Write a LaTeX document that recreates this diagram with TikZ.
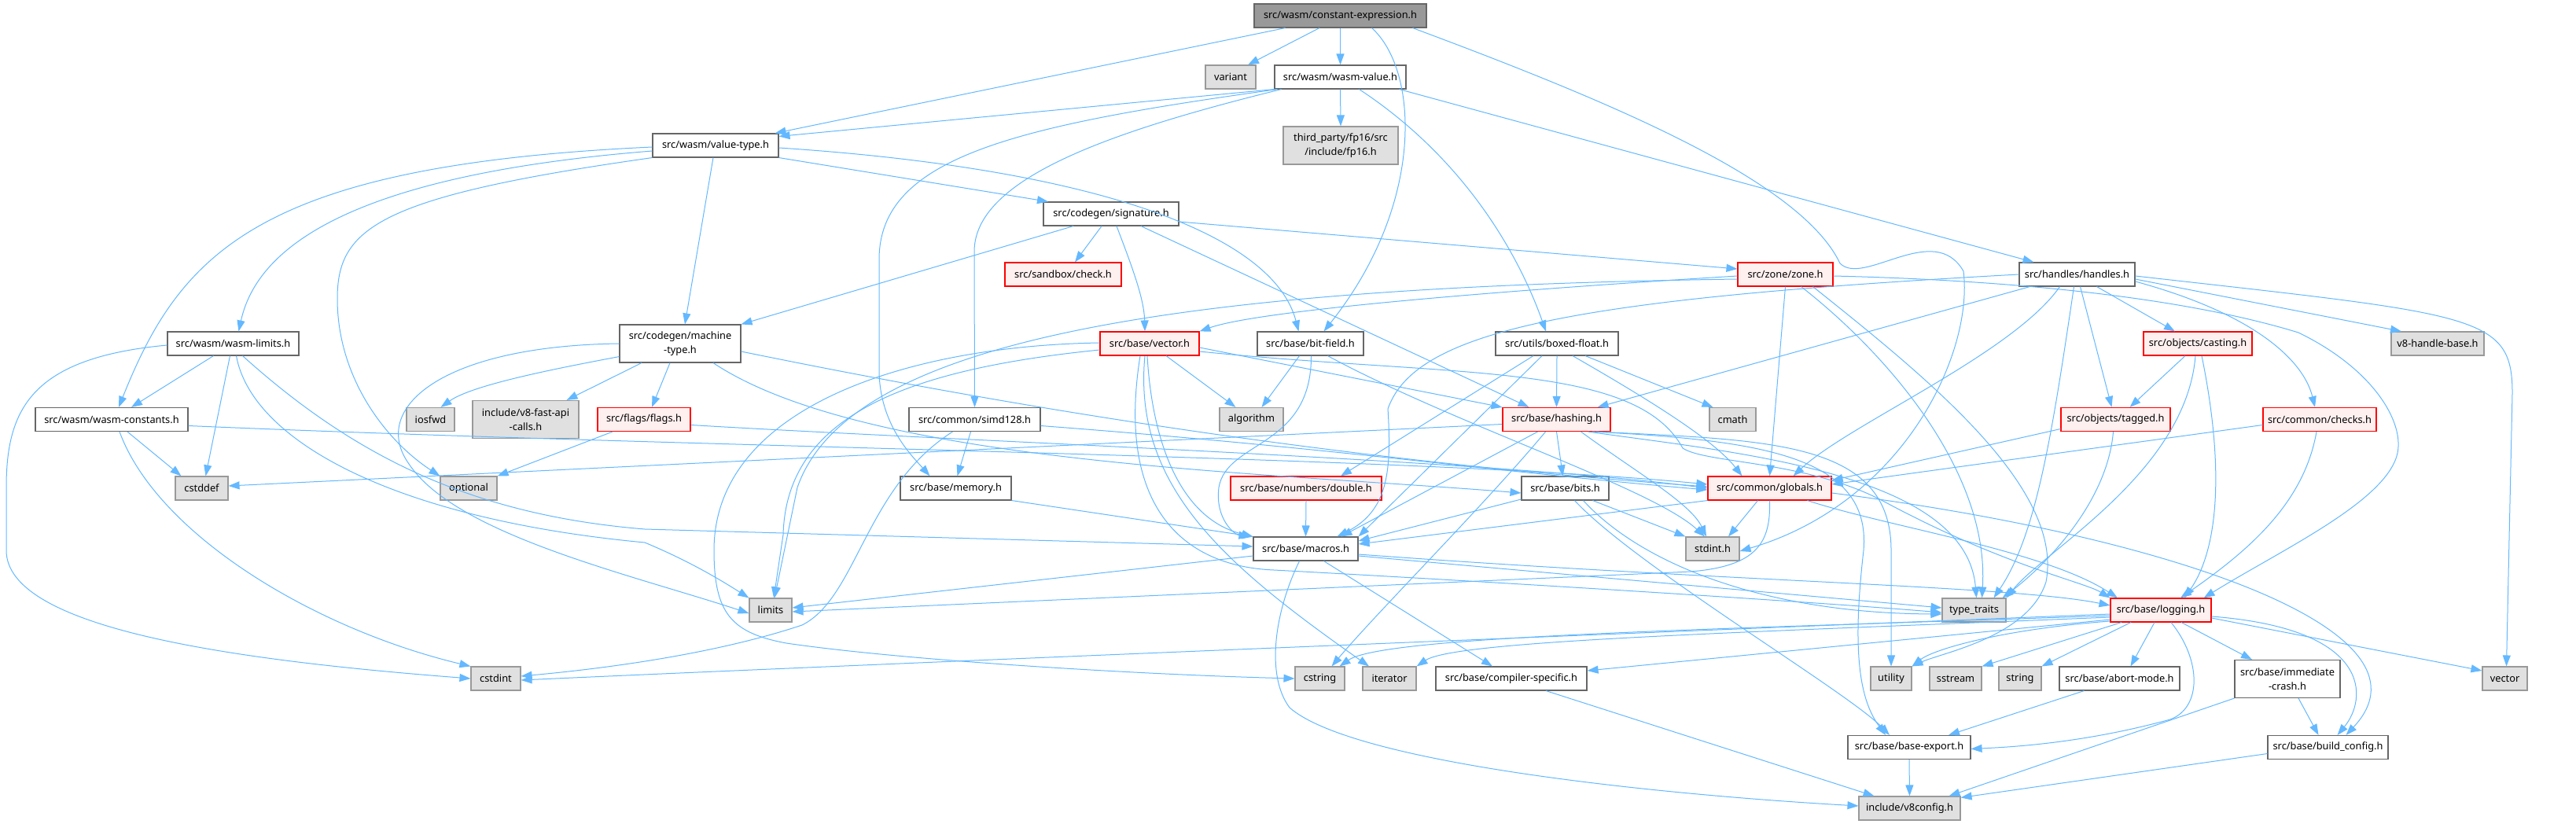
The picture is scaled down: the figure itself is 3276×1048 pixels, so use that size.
\documentclass[tikz,border=0pt]{standalone}
\usepackage{fontspec}
\newfontfamily\nf{Noto Sans}
\usetikzlibrary{arrows.meta}
\definecolor{eb}{HTML}{63B8FF}
\definecolor{ndline}{HTML}{666666}
\definecolor{exline}{HTML}{999999}
\definecolor{exfill}{HTML}{E0E0E0}
\definecolor{trline}{HTML}{FF0000}
\definecolor{trfill}{HTML}{FFF0F0}
\definecolor{rootfill}{HTML}{999999}
\newcommand\mynode[7]{\node[#1,minimum width=#5pt,minimum height=#6pt] (#2) at (#3,#4) {#7};}
\begin{document}
\begin{tikzpicture}[x=1pt,y=-1pt,
 nd/.style={draw=ndline, fill=white, line width=1.1pt, inner sep=0pt, align=center, text=black, font=\nf\fontsize{12.8}{18.5}\selectfont},
 ex/.style={nd, draw=exline, fill=exfill},
 tr/.style={nd, draw=trline, fill=trfill},
 rt/.style={nd, draw=ndline, fill=rootfill},
 e/.style={draw=eb, line width=1pt, -{Triangle[length=14pt,width=10pt]}}]
\useasboundingbox (0,0) rectangle (3276,1048);
% nodes
\mynode{rt}{const}{1704.5}{20}{219}{30}{src/wasm/constant-expression.h}
\mynode{ex}{variant}{1565}{98}{64}{30}{variant}
\mynode{nd}{wasmvalue}{1704.5}{98}{167}{30}{src/wasm/wasm-value.h}
\mynode{ex}{fp16}{1705}{185}{146}{48}{third\_party/fp16/src\\/include/fp16.h}
\mynode{nd}{valuetype}{910}{185}{160}{30}{src/wasm/value-type.h}
\mynode{nd}{signature}{1413}{272}{172}{30}{src/codegen/signature.h}
\mynode{tr}{check}{1352}{349}{148}{30}{src/sandbox/check.h}
\mynode{tr}{zone}{2270.5}{349}{121}{30}{src/zone/zone.h}
\mynode{nd}{handles}{2641.5}{349}{147}{30}{src/handles/handles.h}
\mynode{nd}{wasmlimits}{296.5}{437}{167}{30}{src/wasm/wasm-limits.h}
\mynode{nd}{machinetype}{865}{437}{154}{48}{src/codegen/machine\\-type.h}
\mynode{tr}{vectorh}{1462}{437}{126}{30}{src/base/vector.h}
\mynode{nd}{bitfield}{1666.5}{437}{135}{30}{src/base/bit-field.h}
\mynode{nd}{boxedfloat}{1980}{437}{156}{30}{src/utils/boxed-float.h}
\mynode{tr}{casting}{2795}{437}{138}{30}{src/objects/casting.h}
\mynode{ex}{v8handlebase}{3100}{437}{118}{30}{v8-handle-base.h}
\mynode{nd}{wasmconstants}{142}{533.5}{194}{30}{src/wasm/wasm-constants.h}
\mynode{ex}{iosfwd}{547.5}{533.5}{61}{30}{iosfwd}
\mynode{ex}{v8fastapi}{668.5}{533.5}{135}{48}{include/v8-fast-api\\-calls.h}
\mynode{tr}{flags}{819}{533.5}{118}{30}{src/flags/flags.h}
\mynode{nd}{simd128}{1239.5}{533.5}{167}{30}{src/common/simd128.h}
\mynode{ex}{algorithm}{1591.5}{533.5}{81}{30}{algorithm}
\mynode{tr}{hashing}{1979.5}{533.5}{137}{30}{src/base/hashing.h}
\mynode{ex}{cmath}{2203.5}{533.5}{59}{30}{cmath}
\mynode{tr}{tagged}{2690.5}{533.5}{139}{30}{src/objects/tagged.h}
\mynode{tr}{checks}{2950}{533.5}{144}{30}{src/common/checks.h}
\mynode{ex}{cstddef}{256.5}{621}{67}{30}{cstddef}
\mynode{ex}{optional}{596}{621}{72}{30}{optional}
\mynode{nd}{memory}{1215.5}{621}{141}{30}{src/base/memory.h}
\mynode{tr}{double}{1661}{621}{192}{30}{src/base/numbers/double.h}
\mynode{nd}{bits}{1990.5}{621}{111}{30}{src/base/bits.h}
\mynode{tr}{globals}{2250.5}{621}{157}{30}{src/common/globals.h}
\mynode{nd}{macros}{1660.5}{698}{133}{30}{src/base/macros.h}
\mynode{ex}{stdint}{2178}{698}{68}{30}{stdint.h}
\mynode{ex}{limits}{980}{776}{54}{30}{limits}
\mynode{ex}{typetraits}{2510.5}{776}{81}{30}{type\_traits}
\mynode{tr}{logging}{2748}{776}{128}{30}{src/base/logging.h}
\mynode{ex}{cstdint}{630.5}{863}{63}{30}{cstdint}
\mynode{ex}{cstring}{1678.5}{863}{63}{30}{cstring}
\mynode{ex}{iterator}{1767}{863}{68}{30}{iterator}
\mynode{nd}{compilerspecific}{1922}{863}{192}{30}{src/base/compiler-specific.h}
\mynode{ex}{utility}{2405}{863}{52}{30}{utility}
\mynode{ex}{sstream}{2487}{863}{66}{30}{sstream}
\mynode{ex}{string}{2569}{863}{54}{30}{string}
\mynode{nd}{abortmode}{2695.5}{863}{153}{30}{src/base/abort-mode.h}
\mynode{nd}{immediatecrash}{2909}{863.5}{134}{48}{src/base/immediate\\-crash.h}
\mynode{ex}{stdvector}{3185.5}{863}{57}{30}{vector}
\mynode{nd}{baseexport}{2428}{950.5}{156}{30}{src/base/base-export.h}
\mynode{nd}{buildconfig}{2960.5}{950.5}{153}{30}{src/base/build\_config.h}
\mynode{ex}{v8config}{2428.5}{1028}{129}{30}{include/v8config.h}
% edges
\draw[e] ([xshift=-26.5pt]const.south) -- ([xshift=22pt]variant.north);
\draw[e] (const.south) -- (wasmvalue.north);
\draw[e] ([xshift=-70pt]const.south) -- ([xshift=-5pt]valuetype.north east);
\draw[e] ([xshift=40pt]const.south) .. controls (1805,90) and (1812,260) .. ([xshift=17pt]bitfield.north);
\draw[e] ([xshift=92pt]const.south) .. controls (2050,130) and (2290,230) .. (2340,335) .. controls (2370,365) and (2460,280) .. (2497,345) .. controls (2510,450) and (2420,640) .. ([yshift=-3pt]stdint.east);
\draw[e] (wasmvalue.south west) -- ([yshift=-4pt]valuetype.north east);
\draw[e] (wasmvalue.south) -- (fp16.north);
\draw[e] ([xshift=-80pt]wasmvalue.south) .. controls (1290,160) and (1118,200) .. (1118,330) -- (1118,470) .. controls (1118,540) and (1160,580) .. ([xshift=-33pt]memory.north);
\draw[e] ([xshift=-75pt]wasmvalue.south) .. controls (1400,170) and (1239,230) .. (1239,320) -- (simd128.north);
\draw[e] ([xshift=24pt]wasmvalue.south) .. controls (1860,200) and (1930,320) .. ([xshift=-14pt]boxedfloat.north);
\draw[e] ([xshift=75pt]wasmvalue.south) -- ([xshift=-55pt]handles.north);
\draw[e] ([yshift=-7pt]valuetype.west) .. controls (480,220) and (330,300) .. ([xshift=7pt]wasmlimits.north);
\draw[e] ([yshift=-2pt]valuetype.west) .. controls (330,210) and (230,320) .. ([xshift=9pt]wasmconstants.north);
\draw[e] (valuetype.south west) .. controls (480,250) and (429,290) .. (429,380) .. controls (429,480) and (490,560) .. (optional.north west);
\draw[e] ([xshift=-3pt]valuetype.south) -- ([xshift=6pt]machinetype.north);
\draw[e] (valuetype.south east) -- ([xshift=-80pt]signature.north);
\draw[e] ([yshift=-3pt]valuetype.east) .. controls (1400,215) and (1620,300) .. ([xshift=-15pt]bitfield.north);
\draw[e] ([xshift=-48pt]signature.south) -- (machinetype.north east);
\draw[e] ([xshift=-12pt]signature.south) -- ([xshift=15pt]check.north);
\draw[e] ([xshift=7pt]signature.south) .. controls (1440,340) and (1455,380) .. ([xshift=-6pt]vectorh.north);
\draw[e] ([xshift=38pt]signature.south) -- ([xshift=-35pt]hashing.north);
\draw[e] ([yshift=-10pt]signature.east) -- ([yshift=7pt]zone.west);
\draw[e] ([yshift=-2pt]wasmlimits.west) .. controls (40,455) and (8,520) .. (8,620) -- (8,700) .. controls (8,800) and (300,840) .. (cstdint.west);
\draw[e] ([xshift=-25pt]wasmlimits.south) -- ([xshift=25pt]wasmconstants.north);
\draw[e] ([xshift=-4pt]wasmlimits.south) -- ([xshift=5pt]cstddef.north);
\draw[e] ([xshift=4pt]wasmlimits.south) .. controls (320,560) and (500,660) .. (820,690) .. controls (880,715) and (920,740) .. (limits.north west);
\draw[e] ([xshift=12pt]wasmlimits.south) .. controls (450,580) and (600,655) .. (820,673) -- ([yshift=3pt]macros.west);
\draw[e] ([xshift=20pt]wasmconstants.south) -- ([xshift=-26pt]cstddef.north);
\draw[e] ([xshift=10pt]wasmconstants.south) .. controls (200,680) and (400,800) .. (cstdint.north west);
\draw[e] ([yshift=-8pt]wasmconstants.east) .. controls (900,570) and (1800,580) .. ([yshift=5pt]globals.west);
\draw[e] ([yshift=8pt]machinetype.south west) .. controls (700,470) and (600,490) .. ([xshift=13pt]iosfwd.north);
\draw[e] ([xshift=-49pt]machinetype.south) -- ([xshift=52pt]v8fastapi.north);
\draw[e] ([xshift=-13pt]machinetype.south) -- ([xshift=10pt]flags.north);
\draw[e] (machinetype.west) .. controls (560,440) and (470,520) .. (520,590) .. controls (580,680) and (800,730) .. ([yshift=-4pt]limits.west);
\draw[e] ([xshift=42pt]machinetype.south) .. controls (1100,590) and (1600,600) .. ([yshift=-6pt]bits.west);
\draw[e] ([yshift=-10pt]machinetype.east) .. controls (1300,520) and (1700,585) .. ([yshift=2pt]globals.west);
\draw[e] ([xshift=-40pt]flags.south) -- (optional.north east);
\draw[e] ([yshift=-7pt]flags.east) .. controls (1200,560) and (1900,585) .. (globals.west);
\draw[e] ([xshift=-28pt]simd128.south) .. controls (1100,620) and (1090,760) .. (1020,795) .. controls (900,835) and (750,852) .. ([yshift=3pt]cstdint.east);
\draw[e] ([xshift=-5pt]simd128.south) -- ([xshift=2pt]memory.north);
\draw[e] ([yshift=-8pt]simd128.east) .. controls (1700,570) and (1900,600) .. ([yshift=-2pt]globals.west);
\draw[e] (memory.south east) -- (macros.north west);
\draw[e] ([xshift=21pt]vectorh.south) -- ([xshift=-20pt]algorithm.north);
\draw[e] ([yshift=1pt]vectorh.west) .. controls (1150,440) and (908,520) .. (908,700) .. controls (908,780) and (930,805) .. (1000,818) .. controls (1150,840) and (1450,858) .. (cstring.west);
\draw[e] ([xshift=-6pt]vectorh.south) .. controls (1440,620) and (1560,720) .. ([xshift=-26pt]iterator.north);
\draw[e] ([yshift=-8pt]vectorh.west) .. controls (1150,470) and (1000,530) .. (996,680) -- ([xshift=4pt]limits.north);
\draw[e] ([xshift=-3pt]vectorh.south) .. controls (1465,560) and (1500,660) .. (macros.north west);
\draw[e] ([yshift=-5pt]vectorh.east) -- (hashing.north west);
\draw[e] ([xshift=-12pt]vectorh.south) .. controls (1420,640) and (1500,720) .. (1620,725) .. controls (1900,740) and (2300,765) .. ([yshift=-3pt]typetraits.west);
\draw[e] ([yshift=-10pt]vectorh.east) .. controls (1850,480) and (2080,460) .. (2140,570) .. controls (2170,590) and (2300,585) .. (2400,640) .. controls (2550,720) and (2650,740) .. (logging.north west);
\draw[e] ([xshift=-14pt]bitfield.south) -- ([xshift=13pt]algorithm.north);
\draw[e] ([xshift=1pt]bitfield.south) .. controls (1668,570) and (1560,560) .. (1550,620) .. controls (1545,660) and (1570,680) .. ([xshift=-4pt]macros.north west);
\draw[e] ([xshift=22pt]bitfield.south) .. controls (1850,540) and (2100,620) .. ([xshift=-10pt]stdint.north);
\draw[e] ([xshift=-30pt]boxedfloat.south) -- ([xshift=44pt]double.north);
\draw[e] ([xshift=-19pt]boxedfloat.south) -- (macros.north east);
\draw[e] (boxedfloat.south) -- (hashing.north);
\draw[e] ([xshift=20pt]boxedfloat.south) .. controls (2100,510) and (2180,560) .. ([xshift=-35pt]globals.north);
\draw[e] ([xshift=36pt]boxedfloat.south) -- ([xshift=-25pt]cmath.north);
\draw[e] (double.south) -- (macros.north);
\draw[e] ([yshift=-6pt]hashing.west) -- ([yshift=3pt]cstddef.east);
\draw[e] ([xshift=-24pt]hashing.south) -- ([xshift=45pt]macros.north);
\draw[e] ([xshift=-14pt]hashing.south) .. controls (1890,640) and (1750,780) .. ([xshift=15pt]cstring.north);
\draw[e] (hashing.south) -- ([xshift=-3pt]bits.north);
\draw[e] ([xshift=31pt]hashing.south) .. controls (2080,600) and (2150,640) .. ([xshift=-8pt]stdint.north);
\draw[e] ([xshift=40pt]hashing.south) .. controls (2200,575) and (2500,600) .. ([xshift=3pt]typetraits.north);
\draw[e] ([xshift=50pt]hashing.south) .. controls (2250,560) and (2405,560) .. (2405,700) -- (utility.north);
\draw[e] ([xshift=45pt]hashing.south) .. controls (2240,560) and (2380,580) .. (2370,700) .. controls (2355,830) and (2365,890) .. ([xshift=-30pt]baseexport.north);
\draw[e] ([yshift=-14pt]bits.west) -- ([yshift=10pt]macros.east);
\draw[e] ([xshift=12pt]bits.south) .. controls (2080,720) and (2350,880) .. ([xshift=-25pt]baseexport.north);
\draw[e] ([xshift=23pt]bits.south) .. controls (2090,720) and (2250,780) .. ([yshift=-5pt]typetraits.west);
\draw[e] ([xshift=35pt]bits.south) -- (stdint.north west);
\draw[e] (globals.south west) -- ([yshift=6pt]macros.east);
\draw[e] ([xshift=-15pt]globals.south) -- ([xshift=20pt]stdint.north);
\draw[e] (globals.south) .. controls (2252,690) and (2235,720) .. (2150,727) -- ([yshift=-2pt]limits.east);
\draw[e] ([xshift=48pt]globals.south) .. controls (2400,670) and (2600,700) .. ([xshift=-55pt]logging.north);
\draw[e] ([yshift=-6pt]globals.east) .. controls (2750,680) and (3110,800) .. ([xshift=23pt]buildconfig.north);
\draw[e] ([yshift=-2pt]zone.west) .. controls (1900,370) and (1600,395) .. (vectorh.north east);
\draw[e] ([yshift=-6pt]zone.west) .. controls (1500,365) and (1080,430) .. (1014,620) -- ([xshift=5pt]limits.north);
\draw[e] (zone.south) -- (globals.north);
\draw[e] ([xshift=20pt]zone.south) .. controls (2400,450) and (2530,600) .. ([xshift=10pt]typetraits.north);
\draw[e] ([yshift=-2pt]zone.east) .. controls (2500,355) and (2750,370) .. (2923,423) .. controls (3020,470) and (3060,540) .. (3048,580) .. controls (3030,640) and (2900,700) .. ([xshift=-10pt]logging.north east);
\draw[e] ([xshift=35pt]zone.south) .. controls (2450,480) and (2625,620) .. (2602,740) .. controls (2580,810) and (2470,830) .. (utility.north east);
\draw[e] ([xshift=25pt]handles.south) -- ([xshift=-29pt]casting.north);
\draw[e] ([yshift=-6pt]handles.east) -- ([xshift=-46pt]v8handlebase.north);
\draw[e] ([xshift=4pt]handles.south) -- ([xshift=-5pt]tagged.north);
\draw[e] ([yshift=-9pt]handles.east) .. controls (2870,400) and (2930,460) .. ([xshift=-6pt]checks.north);
\draw[e] ([yshift=-2pt]handles.east) .. controls (3150,400) and (3195,400) .. (3195,500) -- ([xshift=2pt]stdvector.north);
\draw[e] ([xshift=-60pt]handles.south) -- ([xshift=52pt]hashing.north);
\draw[e] ([xshift=-22pt]handles.south) .. controls (2560,450) and (2350,540) .. ([xshift=30pt]globals.north);
\draw[e] ([xshift=-4pt]handles.south) .. controls (2610,550) and (2590,680) .. ([xshift=25pt]typetraits.north);
\draw[e] (handles.west) .. controls (2000,380) and (1800,420) .. (1765,520) .. controls (1770,600) and (1765,650) .. ([xshift=40pt]macros.north);
\draw[e] ([xshift=-16pt]casting.south) -- ([xshift=18pt]tagged.north);
\draw[e] ([xshift=-3pt]casting.south) .. controls (2780,600) and (2600,700) .. (typetraits.north east);
\draw[e] ([xshift=5pt]casting.south) .. controls (2830,600) and (2820,700) .. ([xshift=30pt]logging.north);
\draw[e] ([yshift=-12pt]tagged.west) -- ([yshift=10pt]globals.east);
\draw[e] ([xshift=-3pt]tagged.south) .. controls (2680,640) and (2600,720) .. ([xshift=-5pt]typetraits.north east);
\draw[e] ([yshift=-7pt]checks.west) -- ([yshift=5pt]globals.east);
\draw[e] ([xshift=-4pt]checks.south) .. controls (2930,640) and (2860,700) .. ([xshift=25pt]logging.north);
\draw[e] ([yshift=-9pt]macros.west) -- ([yshift=3pt]limits.east);
\draw[e] ([xshift=-8pt]macros.south) .. controls (1620,780) and (1610,860) .. (1640,900) .. controls (1720,970) and (2100,1010) .. ([yshift=3pt]v8config.west);
\draw[e] ([xshift=23pt]macros.south) -- ([xshift=-24pt]compilerspecific.north);
\draw[e] ([yshift=-9pt]macros.east) -- ([yshift=3pt]typetraits.west);
\draw[e] ([yshift=-7pt]macros.east) .. controls (2200,740) and (2560,745) .. ([yshift=6pt]logging.west);
\draw[e] ([yshift=-5pt]logging.west) .. controls (2200,800) and (1100,845) .. ([yshift=-2pt]cstdint.east);
\draw[e] ([yshift=-7pt]logging.west) .. controls (2200,800) and (1760,808) .. ([xshift=25pt]cstring.north);
\draw[e] ([yshift=-9pt]logging.west) .. controls (2200,805) and (1850,815) .. (iterator.north east);
\draw[e] ([yshift=-12pt]logging.west) -- ([yshift=10pt]compilerspecific.east);
\draw[e] ([yshift=-14pt]logging.west) .. controls (2550,800) and (2460,825) .. (utility.north east);
\draw[e] ([xshift=-50pt]logging.south) -- (sstream.north east);
\draw[e] ([xshift=-38pt]logging.south) -- (string.north east);
\draw[e] ([xshift=-8pt]logging.south) -- ([xshift=14pt]abortmode.north);
\draw[e] ([xshift=13pt]logging.south) .. controls (2800,840) and (2800,900) .. (2760,915) .. controls (2650,945) and (2560,950) .. ([yshift=-2pt]baseexport.east);
\draw[e] ([xshift=26pt]logging.south) -- ([xshift=-45pt]immediatecrash.north);
\draw[e] ([yshift=-10pt]logging.east) -- ([yshift=10pt]stdvector.west);
\draw[e] ([yshift=-8pt]logging.east) .. controls (3020,800) and (3010,890) .. ([xshift=12pt]buildconfig.north);
\draw[e] ([xshift=-45pt]abortmode.south) -- ([xshift=50pt]baseexport.north);
\draw[e] (immediatecrash.south west) -- ([xshift=50pt]v8config.north);
\draw[e] ([xshift=14pt]immediatecrash.south) -- ([xshift=-12pt]buildconfig.north);
\draw[e] ([yshift=-8pt]buildconfig.west) -- ([yshift=-2pt]v8config.north east);
\draw[e] (baseexport.south) -- (v8config.north);
\draw[e] ([xshift=44pt]compilerspecific.south) -- ([xshift=-45pt]v8config.north);
\end{tikzpicture}
\end{document}
